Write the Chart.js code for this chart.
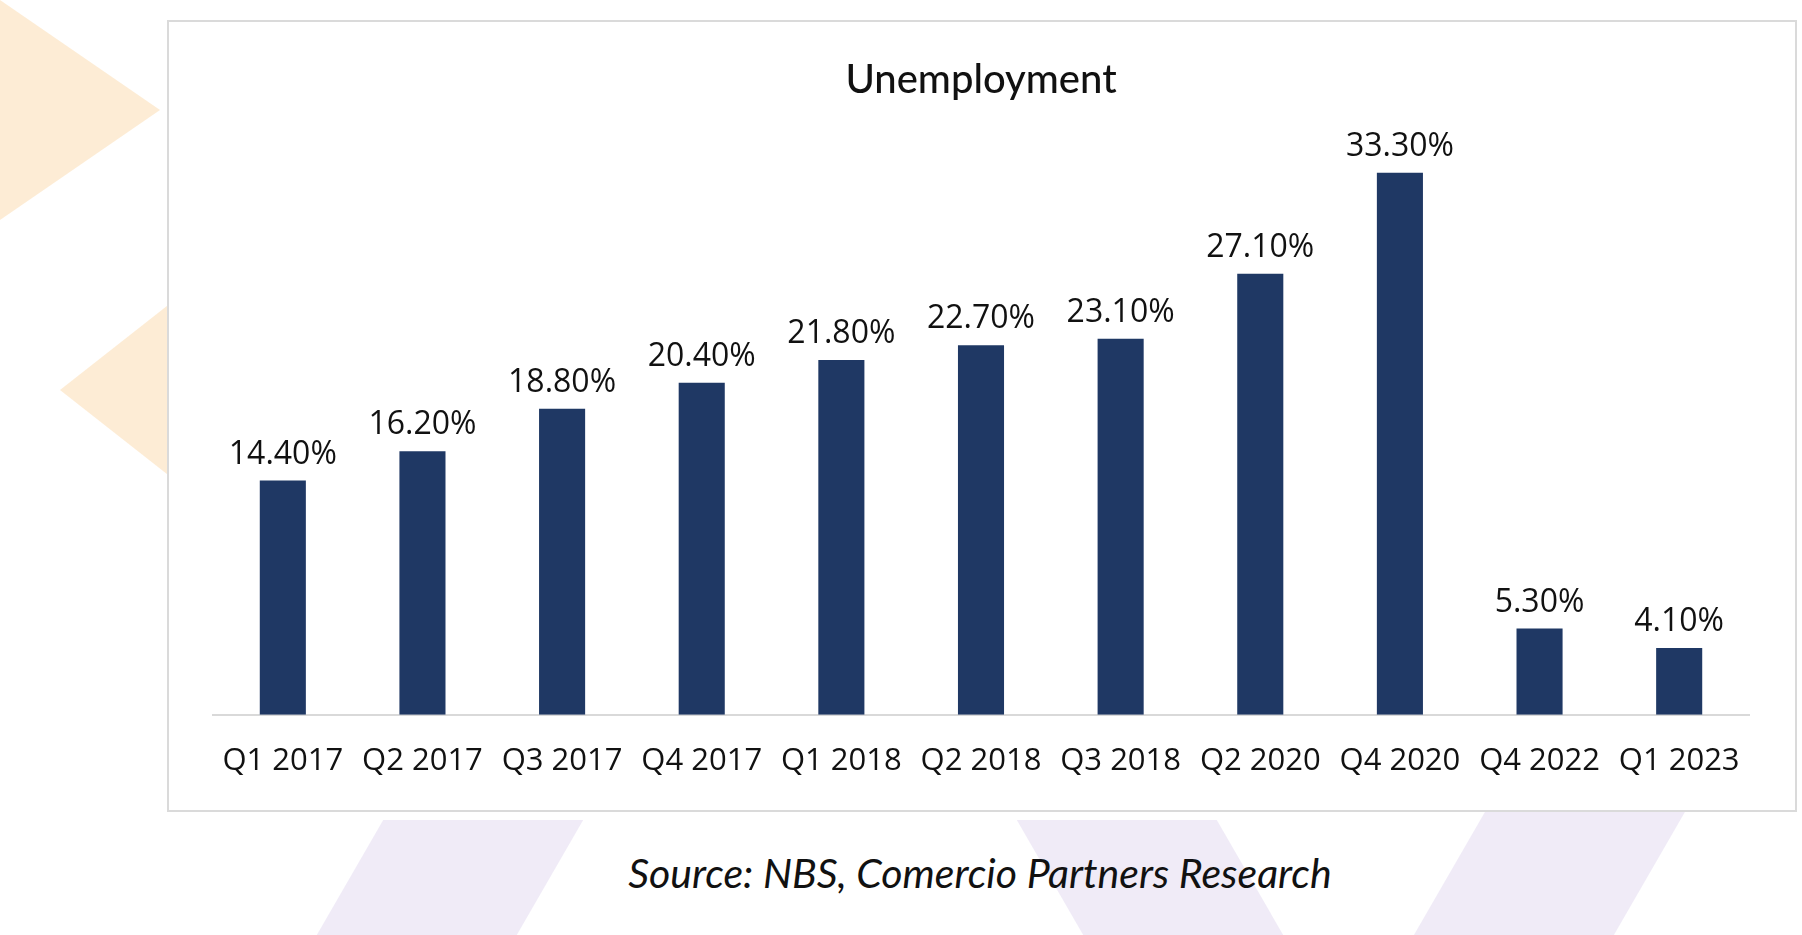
<!DOCTYPE html>
<html><head><meta charset="utf-8">
<script src="https://cdn.jsdelivr.net/npm/chart.js@4/dist/chart.umd.min.js"></script>
<style>
body{margin:0;width:1802px;height:935px;background:#fff;position:relative;overflow:hidden;font-family:Lato,sans-serif}
.s{position:absolute;opacity:.22}
#box{position:absolute;left:167px;top:20px;width:1626px;height:788px;border:2px solid #dadada;background:#fff}
#src{position:absolute;left:160px;width:1640px;top:848px;text-align:center;font-style:italic;font-size:41px;color:#111}
</style></head><body>
<div class="s" style="left:0;top:0;width:0;height:0;border-left:160px solid #f7a840;border-top:110px solid transparent;border-bottom:110px solid transparent"></div>
<div class="s" style="left:60px;top:280px;width:0;height:0;border-right:140px solid #f7a840;border-top:110px solid transparent;border-bottom:110px solid transparent"></div>
<div class="s" style="left:350px;top:820px;width:200px;height:115px;background:#b9a3dc;transform:skewX(-30deg)"></div>
<div class="s" style="left:1050px;top:820px;width:200px;height:115px;background:#b9a3dc;transform:skewX(30deg)"></div>
<div class="s" style="left:1450px;top:810px;width:200px;height:125px;background:#b9a3dc;transform:skewX(-30deg)"></div>
<div id="box"><canvas id="c" width="1626" height="788"></canvas></div>
<div id="src">Source: NBS, Comercio Partners Research</div>
<script>
const categories=["Q1 2017","Q2 2017","Q3 2017","Q4 2017","Q1 2018","Q2 2018","Q3 2018","Q2 2020","Q4 2020","Q4 2022","Q1 2023"];
const values=[14.4,16.2,18.8,20.4,21.8,22.7,23.1,27.1,33.3,5.3,4.1];
const labelPlugin={id:'lbl',afterDatasetsDraw(ch){const ctx=ch.ctx;const m=ch.getDatasetMeta(0);ctx.save();ctx.font='32px "Open Sans", sans-serif';ctx.fillStyle='#111';ctx.textAlign='center';ctx.textBaseline='bottom';m.data.forEach((b,i)=>ctx.fillText(values[i].toFixed(2)+'%',b.x,b.y-10));ctx.restore();}};
new Chart(document.getElementById('c'),{type:'bar',data:{labels:categories,datasets:[{data:values,backgroundColor:'#1f3864',barPercentage:0.33,categoryPercentage:1}]},
options:{responsive:false,animation:false,layout:{padding:{left:44,right:46,top:20,bottom:10}},
plugins:{legend:{display:false},tooltip:{enabled:false},title:{display:true,text:'Unemployment',color:'#111',font:{family:'Lato',size:40,weight:'500'},padding:{top:14,bottom:20}}},
scales:{y:{display:false,min:0,max:36.3},x:{grid:{display:false},border:{color:'#d9d9d9',width:2},ticks:{color:'#111',font:{family:'"Open Sans", sans-serif',size:31},padding:20,maxRotation:0}}}},plugins:[labelPlugin]});
</script></body></html>
